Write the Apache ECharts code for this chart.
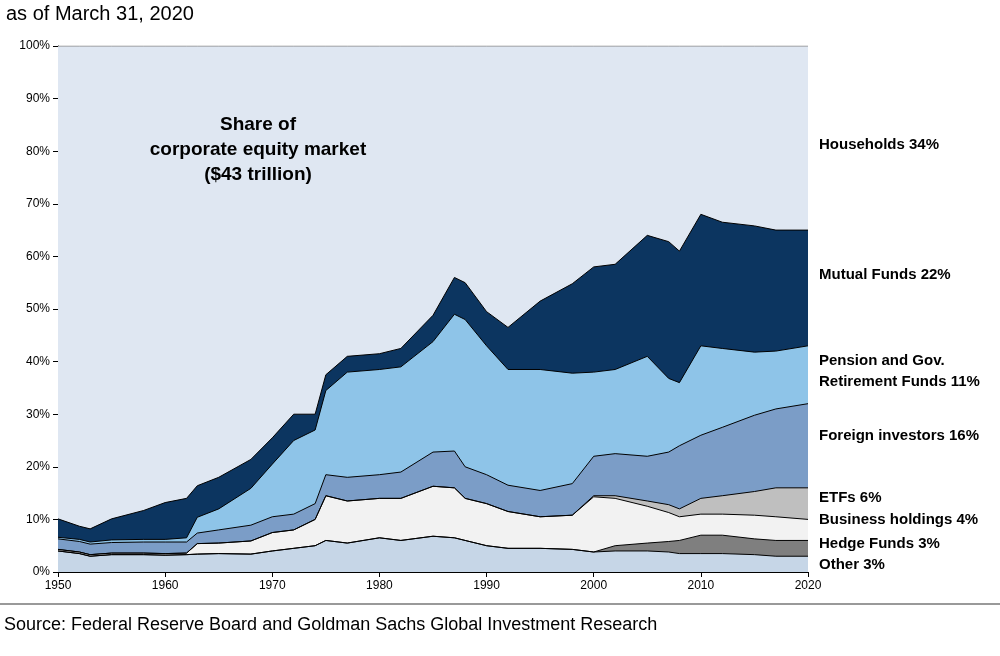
<!DOCTYPE html>
<html><head><meta charset="utf-8">
<script src="https://cdn.jsdelivr.net/npm/echarts@6/dist/echarts.min.js"></script>
<style>html,body{margin:0;background:#fff}#main{width:1000px;height:656px}</style>
</head><body><div id="main"></div>
<script>
const years = [1950,1952,1953,1955,1958,1960,1962,1963,1965,1968,1970,1972,1974,1975,1977,1980,1982,1985,1987,1988,1990,1992,1995,1998,2000,2002,2005,2007,2008,2010,2012,2015,2017,2020]
const other = [4,3.5,3,3.3,3.3,3.2,3.3,3.4,3.5,3.4,4,4.5,5,6,5.5,6.5,6,6.8,6.5,6,5,4.5,4.5,4.3,3.8,4,4,3.8,3.5,3.5,3.5,3.3,3,3]
const hedge = [0,0,0,0,0,0,0,0,0,0,0,0,0,0,0,0,0,0,0,0,0,0,0,0,0,1,1.5,2,2.5,3.5,3.5,3,3,3]
const business = [0.3,0.3,0.3,0.3,0.3,0.3,0.3,2,2,2.5,3.5,3.5,5,8.5,8,7.5,8,9.5,9.5,8,8,7,6,6.5,10.5,9,7,5.5,4.5,4,4,4.5,4.5,4]
const etfs = [0,0,0,0,0,0,0,0,0,0,0,0,0,0,0,0,0,0,0,0,0,0,0,0,0.2,0.5,1,1.5,1.5,3,3.5,4.5,5.5,6]
const foreign = [2,2,2,2,2.1,2.2,2.1,2,2.5,3,3,3,3,4,4.5,4.5,5,6.5,7,6,5.5,5,5,6,7.5,8,8.5,10,12,12,13,14.5,15,16]
const pension = [0.3,0.4,0.4,0.5,0.5,0.5,0.8,3,4,7,10,14,14,16,20,20,20,21,26,28,24.5,22,23,21,16,16,19,14,12,17,15,12,11,11]
const mutual = [3.5,2.5,2.5,4,5.5,7,7.5,6,6,5.5,5,5,3,3,3,3,3.5,5,7,7,6.5,8,13,17,20,20,23,26,25,25,24,24,23,22]
const households = years.map((y, i) => 100 - other[i] - hedge[i] - business[i] - etfs[i] - foreign[i] - pension[i] - mutual[i])

const layers = [
  ['Other', other, '#c6d6e7'],
  ['Hedge Funds', hedge, '#7f7f7f'],
  ['Business holdings', business, '#f2f2f2'],
  ['ETFs', etfs, '#bfbfbf'],
  ['Foreign investors', foreign, '#7b9dc7'],
  ['Pension', pension, '#8ec4e8'],
  ['Mutual Funds', mutual, '#0c3560'],
  ['Households', households, '#dfe7f2'],
]

// cumulative tops, drawn top layer first so lower layers cover it
let running = years.map(() => 0)
const stacked = layers.map(([name, vals, color]) => {
  running = running.map((r, i) => r + vals[i])
  return { name, color, data: years.map((y, i) => [y, +running[i].toFixed(2)]) }
})

const chart = echarts.init(document.getElementById('main'))
const rightLabels = [
  ['Households 34%', 146], ['Mutual Funds 22%', 276], ['Pension and Gov.', 362], ['Retirement Funds 11%', 383],
  ['Foreign investors 16%', 437], ['ETFs 6%', 499], ['Business holdings 4%', 521], ['Hedge Funds 3%', 545], ['Other 3%', 566],
]
chart.setOption({
  animation: false,
  textStyle: { fontFamily: 'Liberation Sans' },
  grid: { left: 58, right: 192, top: 46, bottom: 84 },
  xAxis: {
    type: 'value', min: 1950, max: 2020, interval: 10,
    axisLine: { lineStyle: { color: '#000' } },
    axisTick: { lineStyle: { color: '#000' } },
    axisLabel: { color: '#000', fontSize: 12, formatter: v => String(v) },
    splitLine: { show: false },
  },
  yAxis: {
    type: 'value', min: 0, max: 100, interval: 10,
    axisLine: { show: true, lineStyle: { color: '#000' } },
    axisTick: { show: true, lineStyle: { color: '#000' } },
    axisLabel: { color: '#000', fontSize: 12, formatter: '{value}%' },
    splitLine: { show: false },
  },
  series: stacked.slice().reverse().map(s => ({
    name: s.name, type: 'line', symbol: 'none',
    data: s.data,
    lineStyle: { color: s.name === 'Households' ? '#888' : '#000', width: 1 },
    areaStyle: { color: s.color, opacity: 1 },
  })),
  graphic: [
    { type: 'text', left: 6, top: 4, style: { text: 'as of March 31, 2020', font: '20px Liberation Sans', fill: '#000' } },
    { type: 'text', left: 4, top: 616, style: { text: 'Source: Federal Reserve Board and Goldman Sachs Global Investment Research', font: '18px Liberation Sans', fill: '#000' } },
    { type: 'line', shape: { x1: 0, y1: 604, x2: 1000, y2: 604 }, style: { stroke: '#999', lineWidth: 2 } },
    { type: 'text', x: 258, y: 112, z: 100, style: { text: 'Share of\ncorporate equity market\n($43 trillion)', font: 'bold 19px Liberation Sans', fill: '#000', align: 'center', lineHeight: 25 } },
    ...rightLabels.map(([t, y]) => ({ type: 'text', x: 819, y: y - 9, style: { text: t, font: 'bold 15px Liberation Sans', fill: '#000' } })),
  ],
})
</script></body></html>
